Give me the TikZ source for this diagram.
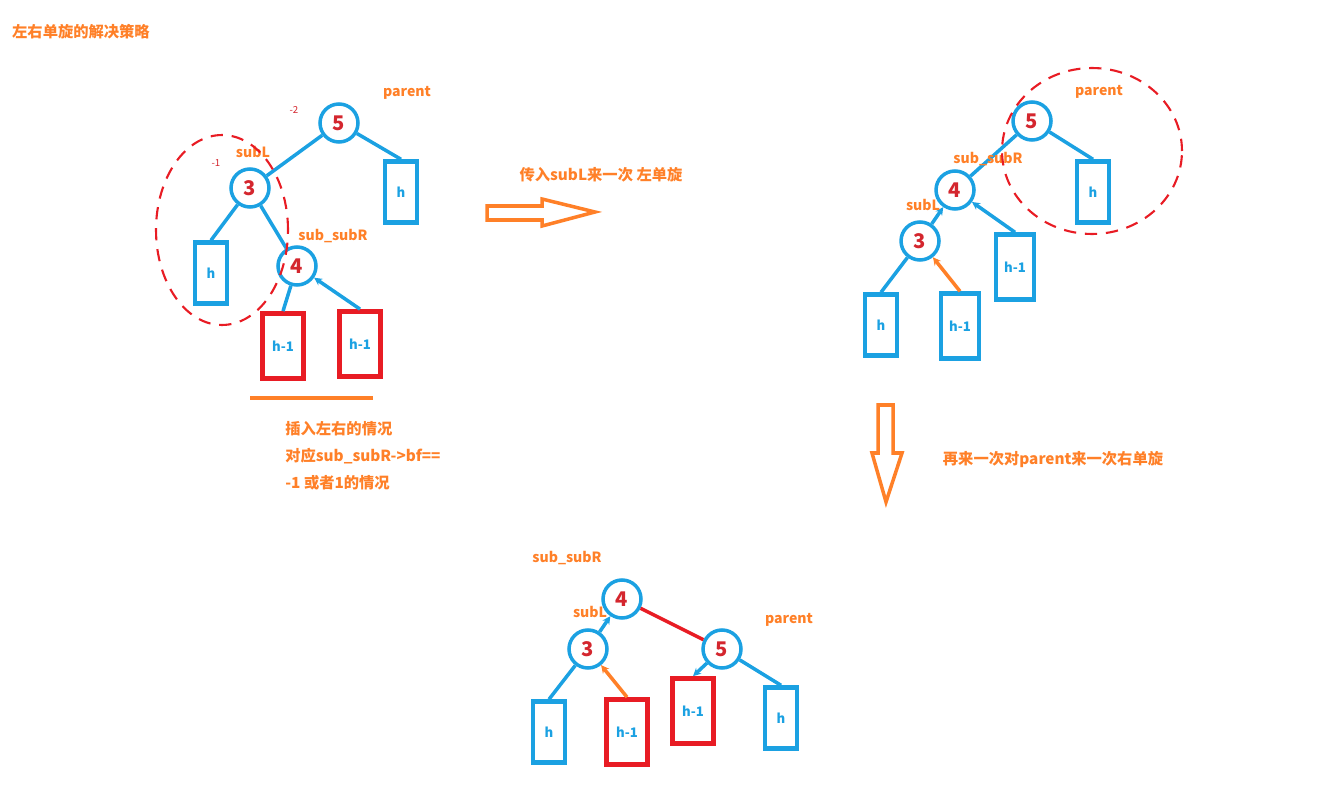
\documentclass[tikz,border=0pt]{standalone}
\usepackage{fontspec}
\setmainfont{Noto Sans CJK SC}
\usetikzlibrary{arrows.meta, positioning}

\definecolor{treeblue}{RGB}{27,161,226}
\definecolor{numred}{RGB}{212,38,46}
\definecolor{boxred}{RGB}{232,28,36}
\definecolor{noteorange}{RGB}{255,128,40}

\tikzset{
  num/.style={circle, draw=treeblue, line width=2pt, minimum size=0.76cm, inner sep=0pt,
    text=numred, font=\bfseries\fontsize{11.5}{12}\selectfont},
  leaf/.style={rectangle, draw=treeblue, line width=2.5pt, minimum width=0.64cm, minimum height=1.22cm,
    inner sep=0pt, text=treeblue, font=\bfseries\fontsize{7.5}{9}\selectfont},
  wideleaf/.style={leaf, minimum width=0.76cm, minimum height=1.3cm},
  redleaf/.style={leaf, draw=boxred, line width=2.7pt, minimum width=0.82cm, minimum height=1.3cm},
  edge/.style={draw=treeblue, line width=2pt},
  tipedge/.style={edge, -{Stealth[length=4.5pt,width=4.5pt]}},
  tag/.style={text=noteorange, font=\bfseries\fontsize{8}{10}\selectfont},
  bal/.style={text=numred, font=\fontsize{5.5}{7}\selectfont},
  note/.style={text=noteorange, font=\bfseries\fontsize{8.7}{15.3}\selectfont},
  ring/.style={draw=boxred, line width=1.2pt, dash pattern=on 7pt off 5pt},
  hollow/.style={draw=noteorange, line width=2pt, line join=miter},
}

\begin{document}
\begin{tikzpicture}[x=0.02cm, y=-0.02cm]
    \useasboundingbox (0,0) rectangle (1328,784);

    % 标题
    \node[note, anchor=west] (title) at (6,32) {左右单旋的解决策略};

    % 原始树
    \node[num] (p1) at (339,123) {5};
    \node[num] (l1) at (250,188) {3};
    \node[num] (r1) at (297,266) {4};
    \node[leaf] (ph1) at (401,192) {h};
    \node[leaf] (lh1) at (211,273) {h};
    \node[redleaf] (ra1) at (283,346) {h-1};
    \node[redleaf] (rb1) at (360,344) {h-1};
    \draw[edge] (p1) -- (l1);
    \draw[edge] (p1) -- (ph1.north);
    \draw[edge] (l1) -- (lh1.north);
    \draw[edge] (l1) -- (r1);
    \draw[edge] (r1) -- (ra1.north);
    \draw[tipedge] (rb1.north) -- (r1);
    \node[tag] (tp1) at (407,93) {parent};
    \node[tag] (tl1) at (253,152) {subL};
    \node[tag] (tr1) at (333,236) {sub\_subR};
    \node[bal] (b1) at (294,110) {-2};
    \node[bal] (b2) at (216,163) {-1};
    \draw[ring] (222,230) ellipse [x radius=1.32cm, y radius=1.9cm];

    % 说明
    \coordinate (u1) at (250,398);
    \coordinate (u2) at (373,398);
    \draw[noteorange, line width=2pt] (u1) -- (u2);
    \node[note, anchor=north west, align=left, inner sep=0pt] (case) at (285,421)
      {插入左右的情况\\对应sub\_subR->bf==\\-1 或者1的情况};

    % 第一次旋转
    \draw[hollow] (487,206) -- (542,206) -- (542,199) -- (595,212) -- (542,226)
      -- (542,220) -- (487,220) -- cycle;
    \node[note] (step1) at (601,175) {传入subL来一次 左单旋};

    % 左单旋之后
    \node[num] (p2) at (1032,121) {5};
    \node[num] (r2) at (955,190) {4};
    \node[num] (l2) at (920,241) {3};
    \node[leaf] (ph2) at (1093,192) {h};
    \node[wideleaf] (rb2) at (1015,267) {h-1};
    \node[leaf] (lh2) at (881,325) {h};
    \node[wideleaf] (ra2) at (960,326) {h-1};
    \draw[edge] (p2) -- (r2);
    \draw[edge] (p2) -- (ph2.north);
    \draw[tipedge] (l2) -- (r2);
    \draw[tipedge] (rb2.north) -- (r2);
    \draw[edge] (l2) -- (lh2.north);
    \draw[tipedge, draw=noteorange] (ra2.north) -- (l2);
    \node[tag] (tp2) at (1099,92) {parent};
    \node[tag] (tr2) at (988,159) {sub\_subR};
    \node[tag] (tl2) at (923,205) {subL};
    \draw[ring] (1092,151) ellipse [x radius=1.8cm, y radius=1.66cm];

    % 第二次旋转
    \draw[hollow] (878,405) -- (893,405) -- (893,453) -- (902,453) -- (886,502)
      -- (872,453) -- (878,453) -- cycle;
    \node[note] (step2) at (1053,460) {再来一次对parent来一次右单旋};

    % 右单旋之后
    \node[num] (r3) at (622,599) {4};
    \node[num] (l3) at (588,649) {3};
    \node[num] (p3) at (722,649) {5};
    \node[leaf] (lh3) at (549,732) {h};
    \node[redleaf] (ra3) at (627,732) {h-1};
    \node[redleaf] (rb3) at (693,711) {h-1};
    \node[leaf] (ph3) at (781,718) {h};
    \draw[tipedge] (l3) -- (r3);
    \draw[edge, draw=boxred] (r3) -- (p3);
    \draw[edge] (l3) -- (lh3.north);
    \draw[tipedge, draw=noteorange] (ra3.north) -- (l3);
    \draw[tipedge] (p3) -- (rb3.north);
    \draw[edge] (p3) -- (ph3.north);
    \node[tag] (tr3) at (567,558) {sub\_subR};
    \node[tag] (tl3) at (590,612) {subL};
    \node[tag] (tp3) at (789,620) {parent};
\end{tikzpicture}
\end{document}
